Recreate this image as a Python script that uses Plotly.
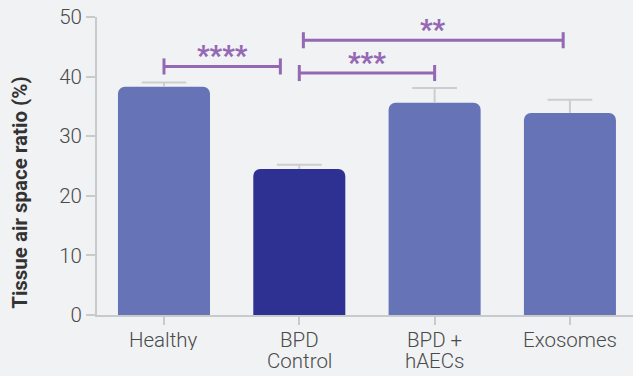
import plotly.graph_objects as go

# Group data
categories = ["Healthy", "BPD\nControl", "BPD +\nhAECs", "Exosomes"]
means = [38.3, 24.5, 35.6, 33.9]
sem = [0.7, 0.7, 2.5, 2.2]
bar_colors = ["#6674b7", "#2e3192", "#6674b7", "#6674b7"]

# Significance comparisons: start position, end position, bracket height, label
cmp_start = [0, 1.0, 1.03]
cmp_end = [0.86, 2.0, 2.95]
cmp_height = [41.7, 40.6, 46.1]
cmp_label = ["****", "***", "**"]

y_ticks = [0, 10, 20, 30, 40, 50]

PURPLE = "#9568b4"
BG = "#f0f2f4"
AXIS = "#c9cacc"
ERR = "#cdcdcf"
FONT = "Roboto"
TXT = "#4a4a4a"

xpos = list(range(len(categories)))

fig = go.Figure()
fig.add_trace(go.Bar(
    x=xpos,
    y=means,
    width=0.68,
    marker=dict(color=bar_colors, cornerradius=7, line=dict(width=0)),
    hoverinfo="skip",
))

# Upper-only error bars: stem from the bar top plus a cap
cap = 0.165
ex, ey = [], []
for i, (m, s) in enumerate(zip(means, sem)):
    ex += [i, i, None, i - cap, i + cap, None]
    ey += [m, m + s, None, m + s, m + s, None]
fig.add_trace(go.Scatter(x=ex, y=ey, mode="lines",
                         line=dict(color=ERR, width=2), hoverinfo="skip"))

shapes = []
annotations = []
tick_h = 1.35
for x0, x1, h, lab in zip(cmp_start, cmp_end, cmp_height, cmp_label):
    line = dict(color=PURPLE, width=3)
    shapes.append(dict(type="line", xref="x", yref="y", x0=x0, x1=x1, y0=h, y1=h, line=line))
    shapes.append(dict(type="line", xref="x", yref="y", x0=x1, x1=x1, y0=h - tick_h, y1=h + tick_h, line=line))
    shapes.append(dict(type="line", xref="x", yref="y", x0=x0, x1=x0, y0=h - tick_h, y1=h + tick_h, line=line))
    annotations.append(dict(x=(x0 + x1) / 2, y=h, xref="x", yref="y", text=lab,
                            showarrow=False, yanchor="middle", yshift=10,
                            font=dict(family=FONT, size=27, color=PURPLE, weight=900)))

# Category labels under the x axis, with tighter line spacing
for i, cat in enumerate(categories):
    for k, part in enumerate(cat.split("\n")):
        annotations.append(dict(x=i, y=0, xref="x", yref="paper", text=part,
                                showarrow=False, xanchor="center", yanchor="middle",
                                yshift=-24 - 21 * k, height=21, valign="middle",
                                font=dict(family=FONT, size=20.5, color=TXT, weight=300)))

annotations.append(dict(
    text="<b>Tissue air space ratio (%)</b>", textangle=-90,
    xref="paper", yref="paper", x=0, y=0.41, xshift=-77,
    xanchor="center", yanchor="middle", showarrow=False,
    font=dict(family=FONT, size=20.5, color="#333333"),
))

fig.update_layout(
    width=633, height=376,
    margin=dict(l=97, r=0, t=17, b=61, autoexpand=False),
    paper_bgcolor=BG, plot_bgcolor=BG,
    showlegend=False,
    shapes=shapes, annotations=annotations,
    font=dict(family=FONT, color=TXT, size=20),
    xaxis=dict(
        range=[-0.495, 3.466], automargin=False,
        tickmode="array", tickvals=xpos, showticklabels=False,
        showgrid=False, zeroline=False,
        showline=True, linecolor=AXIS, linewidth=2,
        ticks="outside", ticklen=8, tickwidth=2, tickcolor=AXIS,
    ),
    yaxis=dict(
        range=[0, 50], automargin=False,
        tickmode="array", tickvals=y_ticks,
        showgrid=False, zeroline=False,
        showline=True, linecolor=AXIS, linewidth=2,
        ticks="outside", ticklen=9, tickwidth=2, tickcolor=AXIS,
        tickfont=dict(family=FONT, size=20.5, color=TXT, weight=300),
    ),
)

fig.write_html("out.html")
